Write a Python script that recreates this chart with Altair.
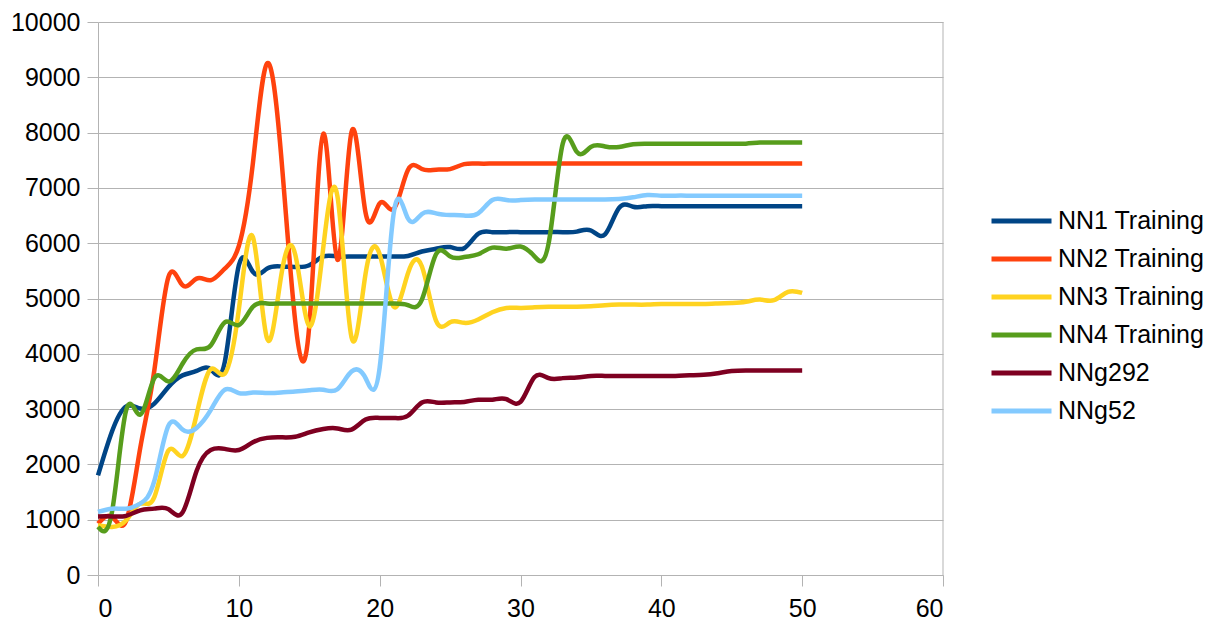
import altair as alt
import pandas as pd

# Training scores per epoch (0..50) for each network
epochs = list(range(51))

series_names = ["NN1 Training", "NN2 Training", "NN3 Training",
                "NN4 Training", "NNg292", "NNg52"]
series_colors = ["#004586", "#ff420e", "#ffd320", "#579d1c", "#7e0021", "#83caff"]

nn1 = [1800, 2600, 3050, 3010, 3100, 3400, 3610, 3690, 3720, 3850,
       5600, 5480, 5540, 5580, 5570, 5600, 5760, 5760, 5760, 5760,
       5760, 5760, 5770, 5850, 5900, 5930, 5910, 6170, 6200, 6200,
       6200, 6200, 6200, 6200, 6210, 6230, 6160, 6640, 6660, 6670,
       6670, 6670, 6670, 6670, 6670, 6670, 6670, 6670, 6670, 6670,
       6670]
nn2 = [930, 1050, 980, 2300, 3700, 5390, 5240, 5360, 5330, 5540,
       5950, 7450, 9250, 7600, 4600, 4500, 7980, 5700, 8010, 6550,
       6720, 6620, 7320, 7340, 7330, 7340, 7430, 7440, 7440, 7440,
       7440, 7440, 7440, 7440, 7440, 7440, 7440, 7440, 7440, 7440,
       7440, 7440, 7440, 7440, 7440, 7440, 7440, 7440, 7440, 7440,
       7440]
nn3 = [900, 870, 990, 1290, 1410, 2250, 2150, 2900, 3720, 3640,
       4800, 6110, 4280, 5400, 5800, 4500, 5930, 6850, 4300, 5450,
       5800, 4850, 5450, 5580, 4600, 4570, 4560, 4620, 4750, 4830,
       4830, 4840, 4850, 4850, 4850, 4860, 4880, 4890, 4890, 4890,
       4900, 4900, 4900, 4900, 4910, 4920, 4940, 4980, 4970, 5120,
       5100]
nn4 = [870, 1150, 2980, 2900, 3560, 3500, 3820, 4080, 4150, 4570,
       4520, 4850, 4910, 4910, 4910, 4910, 4910, 4910, 4910, 4910,
       4910, 4910, 4880, 4980, 5800, 5760, 5750, 5800, 5920, 5900,
       5940, 5760, 6000, 7800, 7650, 7740, 7750, 7740, 7790, 7800,
       7800, 7800, 7800, 7800, 7800, 7800, 7800, 7820, 7820, 7820,
       7820]
nng292 = [1060, 1060, 1070, 1170, 1200, 1190, 1130, 1880, 2260, 2280,
          2260, 2400, 2480, 2490, 2500, 2580, 2640, 2650, 2630, 2810,
          2840, 2840, 2880, 3120, 3120, 3120, 3130, 3170, 3170, 3180,
          3130, 3580, 3560, 3560, 3570, 3600, 3600, 3600, 3600, 3600,
          3600, 3600, 3610, 3620, 3650, 3690, 3700, 3700, 3700, 3700,
          3700]
nng52 = [1140, 1200, 1200, 1290, 1700, 2700, 2630, 2660, 2980, 3350,
         3290, 3300, 3290, 3300, 3320, 3340, 3350, 3360, 3680, 3560,
         3750, 6550, 6450, 6530, 6540, 6510, 6500, 6540, 6780, 6780,
         6780, 6790, 6790, 6790, 6790, 6790, 6790, 6800, 6830, 6870,
         6860, 6860, 6860, 6860, 6860, 6860, 6860, 6860, 6860, 6860,
         6860]

all_values = [nn1, nn2, nn3, nn4, nng292, nng52]

rows = []
for name, vals in zip(series_names, all_values):
    for e, v in zip(epochs, vals):
        rows.append({"epoch": e, "score": v, "series": name})
df = pd.DataFrame(rows)

FONT = "Liberation Sans"
GRID = "#b3b3b3"

x_enc = alt.X("epoch:Q",
              scale=alt.Scale(domain=[0, 60], nice=False, zero=False),
              axis=alt.Axis(values=list(range(0, 61, 10)), grid=False, title=None,
                            labelPadding=10, format="d"))
y_enc = alt.Y("score:Q",
              scale=alt.Scale(domain=[0, 10000], nice=False),
              axis=alt.Axis(values=list(range(0, 10001, 1000)), grid=True, title=None,
                            labelPadding=7, format="d"))
color_enc = alt.Color("series:N",
                      scale=alt.Scale(domain=series_names, range=series_colors),
                      legend=alt.Legend(title=None, orient="none",
                                        legendX=891, legendY=180,
                                        symbolType="stroke", symbolSize=3600,
                                        symbolStrokeWidth=5, labelFontSize=25,
                                        labelFont=FONT, labelColor="#000000",
                                        labelOffset=4, rowPadding=0,
                                        clipHeight=38))

# right-hand frame line of the plot area
frame = alt.Chart(pd.DataFrame({"epoch": [60]})).mark_rule(
    color=GRID, strokeWidth=1).encode(x=x_enc)

# one layer per series so later series are drawn on top
lines = [
    alt.Chart(df).transform_filter(alt.datum.series == name)
    .mark_line(interpolate="natural", strokeWidth=4.5)
    .encode(x=x_enc, y=y_enc, color=color_enc)
    for name in series_names
]

chart = alt.layer(frame, *lines).properties(
    width=845, height=553,
    autosize=alt.AutoSizeParams(type="none"),
    padding={"left": 98, "top": 22, "right": 278, "bottom": 46},
    background="white",
).configure_axis(
    labelFont=FONT, labelFontSize=25, labelColor="#000000",
    domainColor=GRID, tickColor=GRID, gridColor=GRID,
    tickSize=11, domainWidth=1, gridWidth=1, tickWidth=1,
).configure_view(stroke=None)

chart.save("out.html", embed_options={"renderer": "svg", "actions": False})
